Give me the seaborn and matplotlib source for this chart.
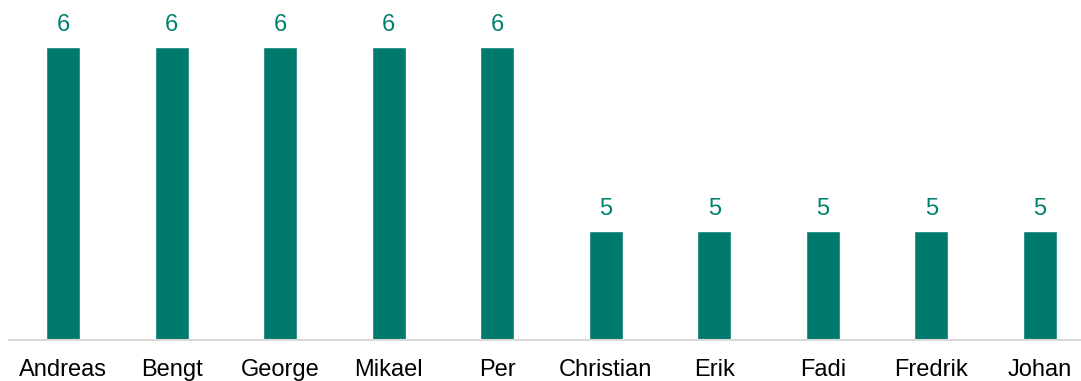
import matplotlib
matplotlib.use("Agg")
import matplotlib.pyplot as plt
import seaborn as sns
import pandas as pd

names = ["Andreas", "Bengt", "George", "Mikael", "Per",
         "Christian", "Erik", "Fadi", "Fredrik", "Johan"]
counts = [6, 6, 6, 6, 6, 5, 5, 5, 5, 5]

df = pd.DataFrame({"name": names, "count": counts})

sns.set_style("white")
plt.rcParams["font.family"] = ["Liberation Sans", "DejaVu Sans"]

fig = plt.figure(figsize=(10.81, 3.81), dpi=100)
ax = fig.add_axes([8.7 / 1081, 41 / 381, 1 - 8.7 / 1081, 340 / 381])

sns.barplot(data=df, x="name", y="count", color="#007A6C", width=0.313,
            saturation=1, ax=ax)

for c in ax.containers:
    ax.bar_label(c, padding=8, fontsize=17, color="#00806F")

ax.set_ylim(4.408, 6.255)
ax.set_xlim(-0.5, 9.378)
ax.set_xlabel("")
ax.set_ylabel("")
ax.set_yticks([])
ax.tick_params(axis="x", length=0, pad=13.5, labelsize=17, labelcolor="black")
for s in ["top", "right", "left"]:
    ax.spines[s].set_visible(False)
ax.spines["bottom"].set_color("#D9D9D9")
ax.spines["bottom"].set_linewidth(1.5)

fig.savefig("out.png", dpi=100)
